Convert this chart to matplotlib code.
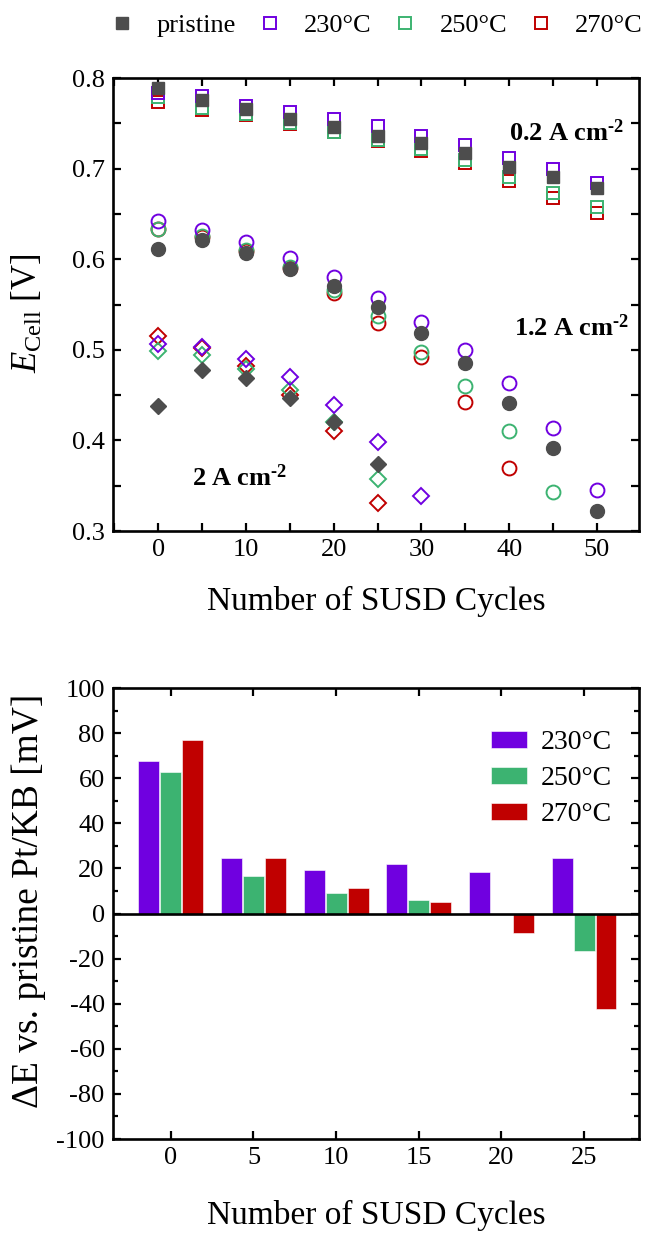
import matplotlib
matplotlib.use('Agg')
from matplotlib import pyplot as plt
from matplotlib.ticker import MultipleLocator, FuncFormatter
from matplotlib.lines import Line2D

plt.rcParams['font.family'] = ['Liberation Serif', 'DejaVu Serif']
plt.rcParams['mathtext.fontset'] = 'custom'
plt.rcParams['mathtext.rm'] = 'Liberation Serif'
plt.rcParams['mathtext.it'] = 'Liberation Serif:italic'
plt.rcParams['mathtext.bf'] = 'Liberation Serif:bold'
plt.rcParams['axes.unicode_minus'] = False

PURPLE = '#7000E0'
GREEN = '#3CB371'
RED = '#C00000'
GREY = '#4D4D4D'

# top panel: cell voltage vs. SUSD cycles
cycles = [0, 5, 10, 15, 20, 25, 30, 35, 40, 45, 50]

low_pristine = [0.789, 0.776, 0.766, 0.755, 0.746, 0.736, 0.728, 0.717, 0.702, 0.691, 0.679]
low_230 = [0.783, 0.780, 0.769, 0.763, 0.755, 0.747, 0.736, 0.726, 0.712, 0.700, 0.684]
low_250 = [0.779, 0.767, 0.760, 0.750, 0.741, 0.732, 0.722, 0.710, 0.691, 0.673, 0.658]
low_270 = [0.774, 0.765, 0.759, 0.749, 0.740, 0.731, 0.720, 0.706, 0.686, 0.668, 0.651]

mid_pristine = [0.611, 0.621, 0.607, 0.589, 0.570, 0.547, 0.519, 0.485, 0.441, 0.392, 0.322]
mid_230 = [0.642, 0.632, 0.619, 0.601, 0.580, 0.557, 0.531, 0.500, 0.463, 0.414, 0.345]
mid_250 = [0.633, 0.626, 0.610, 0.591, 0.566, 0.537, 0.498, 0.460, 0.410, 0.343]
mid_270 = [0.633, 0.625, 0.609, 0.590, 0.563, 0.530, 0.492, 0.442, 0.370]

high_pristine = [0.438, 0.478, 0.469, 0.447, 0.420, 0.374]
high_230 = [0.506, 0.503, 0.490, 0.470, 0.439, 0.398, 0.339]
high_250 = [0.499, 0.494, 0.479, 0.456, 0.420, 0.357]
high_270 = [0.515, 0.502, 0.482, 0.450, 0.410, 0.331]

# bottom panel: difference vs. pristine at 2 A cm-2
bar_cycles = [0, 5, 10, 15, 20, 25]
delta_230 = [67.5, 24.5, 19.5, 21.8, 18.5, 24.5]
delta_250 = [62.6, 16.5, 9.2, 6.1, 0.0, -16.8]
delta_270 = [77.1, 24.5, 11.4, 5.1, -8.8, -42.3]

fig = plt.figure(figsize=(6.48, 12.33), dpi=100)
ax1 = fig.add_axes([0.1744, 0.5693, 0.8118, 0.3674])
ax2 = fig.add_axes([0.1744, 0.0762, 0.8118, 0.3658])


def style_axes(ax):
    for sp in ax.spines.values():
        sp.set_linewidth(1.9)
    ax.tick_params(which='both', direction='in', top=True, right=True,
                   width=1.6, labelsize=19, pad=6)
    ax.tick_params(which='major', length=6)
    ax.tick_params(which='minor', length=6)


# open markers first, pristine filled on top
sets = [
    ('s', 8.5, low_pristine, low_230, low_250, low_270),
    ('o', 10, mid_pristine, mid_230, mid_250, mid_270),
    ('D', 8, high_pristine, high_230, high_250, high_270),
]
for mk, ms, pr, t230, t250, t270 in sets:
    for vals, col in [(t270, RED), (t250, GREEN), (t230, PURPLE)]:
        ax1.plot(cycles[:len(vals)], vals, ls='none', marker=mk, ms=ms,
                 mfc='none', mec=col, mew=1.4)
    ax1.plot(cycles[:len(pr)], pr, ls='none', marker=mk, ms=ms,
             mfc=GREY, mec=GREY, mew=1.0)

ax1.set_xlim(-5.15, 54.8)
ax1.set_ylim(0.3, 0.8)
ax1.xaxis.set_major_locator(MultipleLocator(10))
ax1.xaxis.set_minor_locator(MultipleLocator(5))
ax1.yaxis.set_major_locator(MultipleLocator(0.1))
ax1.yaxis.set_minor_locator(MultipleLocator(0.05))
ax1.yaxis.set_major_formatter(FuncFormatter(lambda v, p: f'{v:.1f}'))
style_axes(ax1)
ax1.set_xlabel('Number of SUSD Cycles', fontsize=24, labelpad=18)
ax1.set_ylabel(r'$E_{\rm Cell}$ [V]', fontsize=25)
ax1.yaxis.set_label_coords(-0.13, 0.48)

ax1.text(0.863, 0.879, r'$\mathbf{0.2\ A\ cm^{‐2}}$', transform=ax1.transAxes,
         fontsize=19, ha='center', va='center')
ax1.text(0.872, 0.448, r'$\mathbf{1.2\ A\ cm^{‐2}}$', transform=ax1.transAxes,
         fontsize=19, ha='center', va='center')
ax1.text(0.241, 0.117, r'$\mathbf{2\ A\ cm^{‐2}}$', transform=ax1.transAxes,
         fontsize=19, ha='center', va='center')

handles = [
    Line2D([], [], ls='none', marker='s', ms=8, mfc=GREY, mec=GREY, label='pristine'),
    Line2D([], [], ls='none', marker='s', ms=8, mfc='none', mec=PURPLE, mew=1.4, label='230°C'),
    Line2D([], [], ls='none', marker='s', ms=8, mfc='none', mec=GREEN, mew=1.4, label='250°C'),
    Line2D([], [], ls='none', marker='s', ms=8, mfc='none', mec=RED, mew=1.4, label='270°C'),
]
ax1.legend(handles=handles, loc='center', bbox_to_anchor=(0.5, 1.117), ncol=4,
           frameon=False, fontsize=19, handletextpad=0.8, columnspacing=0.78,
           handlelength=1.0, borderaxespad=0, borderpad=0)

# bottom bars
w = 1.27
off = 1.33
x = bar_cycles
ax2.bar([c - off for c in x], delta_230, width=w, color=PURPLE, edgecolor='white', lw=0.4, label='230°C')
ax2.bar(x, delta_250, width=w, color=GREEN, edgecolor='white', lw=0.4, label='250°C')
ax2.bar([c + off for c in x], delta_270, width=w, color=RED, edgecolor='white', lw=0.4, label='270°C')
ax2.axhline(0, color='black', lw=1.9, zorder=3)

ax2.set_xlim(-3.5, 28.33)
ax2.set_ylim(-100, 100)
ax2.set_xticks(bar_cycles)
ax2.yaxis.set_major_locator(MultipleLocator(20))
ax2.yaxis.set_minor_locator(MultipleLocator(10))
style_axes(ax2)
ax2.tick_params(which='minor', length=3.5)
ax2.set_xlabel('Number of SUSD Cycles', fontsize=24, labelpad=22)
ax2.set_ylabel('ΔE vs. pristine Pt/KB [mV]', fontsize=27)
ax2.yaxis.set_label_coords(-0.128, 0.528)
ax2.legend(loc='upper right', bbox_to_anchor=(0.985, 0.95), frameon=False, fontsize=20,
           handlelength=1.3, handleheight=0.55, handletextpad=0.5, labelspacing=0.4,
           borderaxespad=0.3)

fig.savefig('out.png', dpi=100)
